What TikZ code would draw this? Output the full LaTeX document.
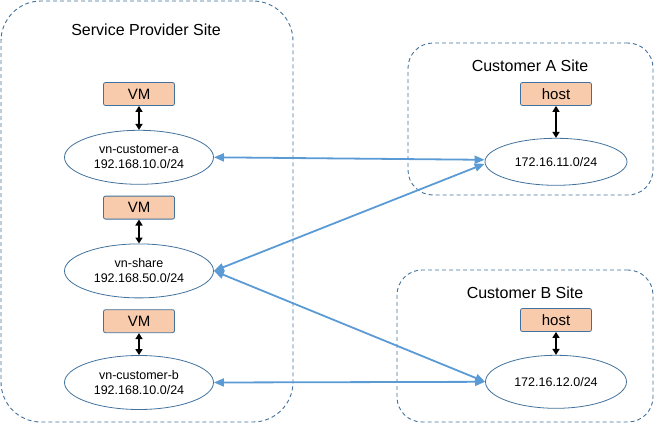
\documentclass[tikz,border=0pt]{standalone}
\usepackage{fontspec}
\setmainfont{Liberation Sans}
\usetikzlibrary{positioning,arrows.meta,shapes.geometric}
\definecolor{siteline}{HTML}{41719C}
\definecolor{vmfill}{HTML}{F8CBAD}
\definecolor{linkblue}{HTML}{5B9BD5}

\begin{document}
\begin{tikzpicture}[x=1pt,y=-1pt,
    site/.style={draw=siteline,dash pattern=on 4pt off 3pt,line width=0.9pt,rounded corners=#1,inner sep=0pt},
    title/.style={font=\fontsize{16}{19}\selectfont},
    vm/.style={draw=siteline,fill=vmfill,rounded corners=2pt,line width=0.8pt,minimum width=71pt,minimum height=23pt,inner sep=0pt,font=\fontsize{15}{18}\selectfont},
    net/.style={draw=siteline,ellipse,line width=0.8pt,minimum width=149pt,minimum height=54pt,inner sep=0pt,align=center,font=\fontsize{12.5}{15}\selectfont},
    dbl/.style={{Triangle[length=6pt,width=7pt]}-{Triangle[length=6pt,width=7pt]},line width=2pt},
    link/.style={{Triangle[length=10pt,width=8pt]}-{Triangle[length=10pt,width=8pt]},draw=linkblue,line width=1.8pt}
  ]
    \useasboundingbox (0,0) rectangle (654,423);

    % sites
    \node[site=40pt,minimum width=292pt,minimum height=421pt] (sp) at (147,211.5) {};
    \node[site=25pt,minimum width=245pt,minimum height=152pt] (siteA) at (530.5,119) {};
    \node[site=25pt,minimum width=256pt,minimum height=152pt] (siteB) at (525,346) {};
    \node[title] (spT) at (146,30) {Service Provider Site};
    \node[title] (siteAT) at (530,66) {Customer A Site};
    \node[title] (siteBT) at (525,293) {Customer B Site};

    % service provider
    \node[vm] (vmA) at (139,94) {VM};
    \node[net, below=24pt of vmA] (vnA) {vn-customer-a\\192.168.10.0/24};
    \node[vm, below=11pt of vnA] (vmS) {VM};
    \node[net, below=24pt of vmS] (vnS) {vn-share\\192.168.50.0/24};
    \node[vm, below=11pt of vnS] (vmB) {VM};
    \node[net, below=22pt of vmB] (vnB) {vn-customer-b\\192.168.10.0/24};

    % customers
    \node[vm] (hostA) at (556,94) {host};
    \node[net, minimum width=142pt, minimum height=47pt, below=32pt of hostA] (netA) {172.16.11.0/24};
    \node[vm] (hostB) at (556,320) {host};
    \node[net, minimum width=141pt, minimum height=53pt, below=23pt of hostB] (netB) {172.16.12.0/24};

    \draw[dbl] (vmA) -- (vnA);
    \draw[dbl] (vmS) -- (vnS);
    \draw[dbl] (vmB) -- (vnB);
    \draw[dbl] (hostA) -- (netA);
    \draw[dbl] (hostB) -- (netB);

    \draw[link] (vnA.east) -- ([yshift=2pt]netA.west);
    \draw[link] (vnS.east) -- ([yshift=-2pt]netA.west);
    \draw[link] (vnS.east) -- (netB.west);
    \draw[link] (vnB.east) -- (netB.west);
  \end{tikzpicture}
\end{document}
